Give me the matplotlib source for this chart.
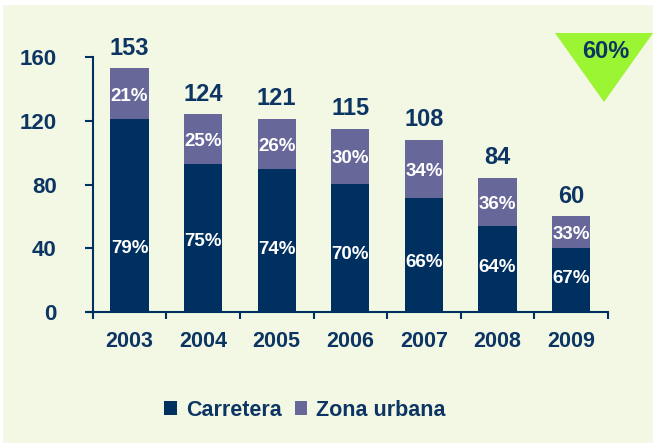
import numpy as np
import matplotlib.pyplot as plt
from matplotlib.patches import Rectangle, Polygon

years = ['2003', '2004', '2005', '2006', '2007', '2008', '2009']
totals = [153, 124, 121, 115, 108, 84, 60]
pct_carretera = [79, 75, 74, 70, 66, 64, 67]
pct_urbana = [21, 25, 26, 30, 34, 36, 33]
yticks = [0, 40, 80, 120, 160]
drop_label = '60%'

navy = '#00305f'
purple = '#67679a'
text_col = '#0d3563'
bg = '#f2f8e4'

plt.rcParams['font.family'] = ['Liberation Sans', 'DejaVu Sans']
plt.rcParams['font.weight'] = 'bold'

fig = plt.figure(figsize=(6.53, 4.43), dpi=100)
fig.patch.set_facecolor('white')
fig.patches.append(Rectangle((3 / 653, 0), 1, 1 - 5 / 443, transform=fig.transFigure,
                             facecolor=bg, edgecolor='none', zorder=-5))

ax = fig.add_axes([0.142, 0.296, 0.789, 0.575])
ax.set_facecolor('none')

x = np.arange(len(years))
totals = np.array(totals, dtype=float)
carretera = totals * np.array(pct_carretera) / 100
urbana = totals - carretera

w = 0.52
ax.bar(x, carretera, w, color=navy, label='Carretera', zorder=2)
ax.bar(x, urbana, w, bottom=carretera, color=purple, label='Zona urbana', zorder=2)

# the lower labels sit a bit below the middle of the dark segment
low_label_y = [40, 44, 39, 36, 31, 28, 21]
for i in range(len(years)):
    ax.text(x[i], low_label_y[i], f'{pct_carretera[i]}%', ha='center', va='center',
            color='white', fontsize=13.5, fontweight='bold')
    ax.text(x[i], carretera[i] + urbana[i] / 2 - 1.5, f'{pct_urbana[i]}%', ha='center',
            va='center', color='white', fontsize=13.5, fontweight='bold')
    ax.text(x[i], totals[i] + 5.5, f'{int(totals[i])}', ha='center', va='bottom',
            color=text_col, fontsize=17, fontweight='bold')

ax.set_xlim(-0.5, len(years) - 0.5)
ax.set_ylim(0, 160)
ax.set_yticks(yticks)
ax.set_yticklabels([str(v) for v in yticks], fontsize=16, color=text_col, fontweight='bold')
ax.set_xticks(x)
ax.set_xticklabels(years, fontsize=15.5, color=text_col, fontweight='bold')
ax.set_xticks(np.arange(-0.5, len(years)), minor=True)
ax.tick_params(axis='x', which='major', length=0, pad=14)
ax.tick_params(axis='x', which='minor', length=5, width=1.5, color=navy, direction='out')
ax.tick_params(axis='y', length=6, width=1.5, color=navy, pad=20)
for s in ['top', 'right']:
    ax.spines[s].set_visible(False)
for s in ['left', 'bottom']:
    ax.spines[s].set_color(navy)
    ax.spines[s].set_linewidth(1.5)
ax.spines['bottom'].set_bounds(-0.58, len(years) - 0.5)

leg = fig.legend(loc='center', bbox_to_anchor=(0.467, 0.074), ncol=2, frameon=False,
                 handlelength=0.6, handleheight=0.6, handletextpad=0.4, columnspacing=0.6,
                 prop={'size': 15.5, 'weight': 'bold'})
for t in leg.get_texts():
    t.set_color(text_col)

# green drop marker, top right
tri = Polygon([(555 / 653, 1 - 33 / 443), (653 / 653, 1 - 33 / 443), (604 / 653, 1 - 102 / 443)],
              closed=True, transform=fig.transFigure, facecolor='#9cf533', edgecolor='none', zorder=3)
fig.patches.append(tri)
fig.text(606 / 653, 1 - 52 / 443, drop_label, ha='center', va='center', fontsize=17,
         fontweight='bold', color=text_col, zorder=4)

fig.savefig('out.png', dpi=100, facecolor=fig.get_facecolor())
